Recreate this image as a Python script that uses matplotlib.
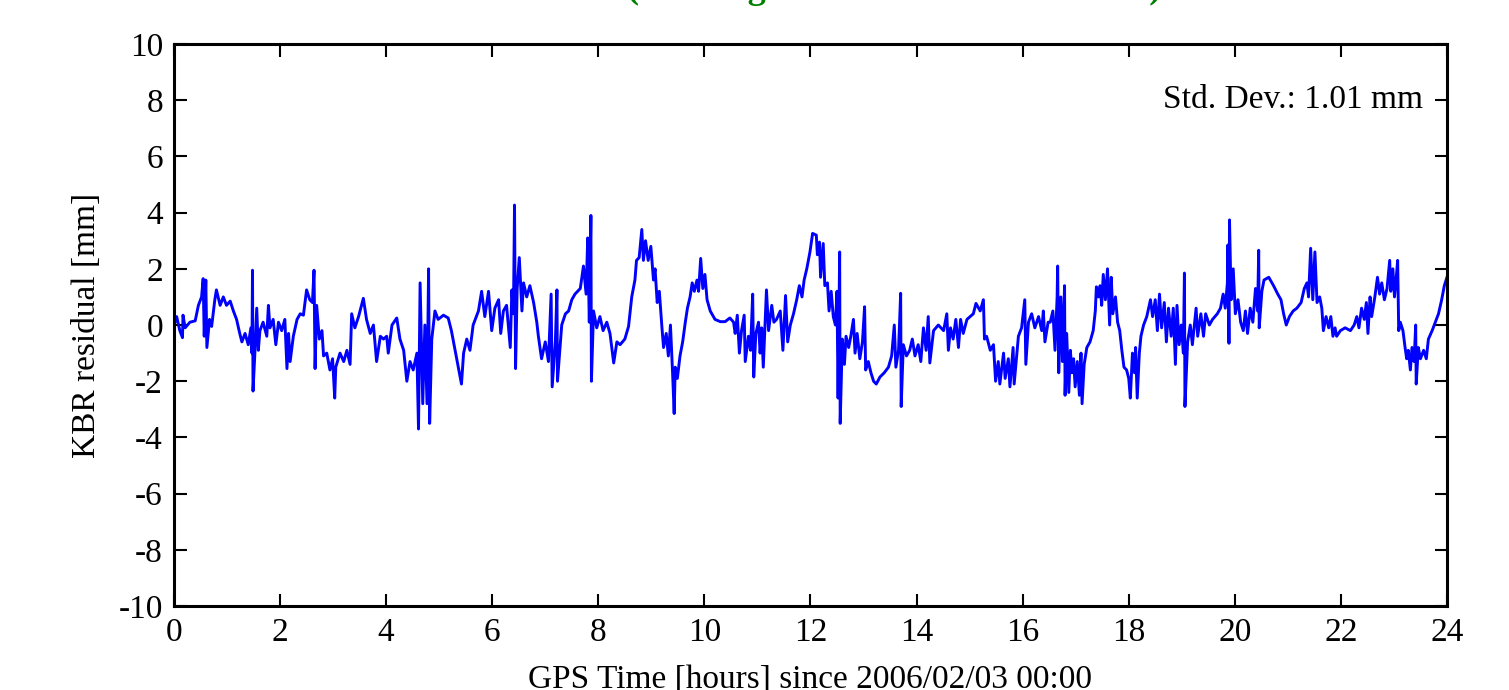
import matplotlib
matplotlib.use('Agg')
import matplotlib.pyplot as plt

plt.rcParams['font.family'] = ['Liberation Serif', 'DejaVu Serif']

# KBR residuals: time [hours] and residual [mm]
hours = [
    0.00, 0.01, 0.05, 0.11, 0.16, 0.17, 0.21, 0.30, 0.40, 0.46, 0.52, 0.55, 0.57, 0.60, 0.62,
    0.67, 0.71, 0.77, 0.80, 0.87, 0.93, 0.99, 1.06, 1.12, 1.18, 1.24, 1.28, 1.34, 1.40, 1.45,
    1.47, 1.48, 1.49, 1.53, 1.56, 1.59, 1.62, 1.68, 1.75, 1.78, 1.81, 1.87, 1.92, 1.97, 2.03,
    2.09, 2.13, 2.16, 2.19, 2.25, 2.32, 2.38, 2.44, 2.50, 2.56, 2.61, 2.64, 2.66, 2.69, 2.74,
    2.79, 2.82, 2.88, 2.94, 2.99, 3.03, 3.05, 3.13, 3.20, 3.26, 3.32, 3.35, 3.41, 3.48, 3.57,
    3.63, 3.70, 3.76, 3.82, 3.89, 3.95, 4.01, 4.04, 4.11, 4.20, 4.26, 4.33, 4.39, 4.45, 4.51,
    4.58, 4.61, 4.64, 4.69, 4.73, 4.77, 4.80, 4.82, 4.86, 4.92, 4.98, 5.08, 5.17, 5.23, 5.30,
    5.36, 5.42, 5.46, 5.52, 5.58, 5.64, 5.74, 5.80, 5.86, 5.93, 5.99, 6.05, 6.12, 6.16, 6.21,
    6.27, 6.34, 6.37, 6.40, 6.42, 6.44, 6.47, 6.51, 6.56, 6.59, 6.65, 6.71, 6.78, 6.84, 6.87,
    6.93, 7.00, 7.06, 7.11, 7.13, 7.19, 7.22, 7.23, 7.31, 7.38, 7.44, 7.50, 7.56, 7.66, 7.72,
    7.77, 7.80, 7.83, 7.86, 7.87, 7.91, 7.97, 8.03, 8.09, 8.16, 8.22, 8.29, 8.35, 8.41, 8.50,
    8.57, 8.63, 8.69, 8.72, 8.77, 8.82, 8.85, 8.89, 8.94, 8.99, 9.04, 9.07, 9.11, 9.15, 9.20,
    9.23, 9.28, 9.32, 9.36, 9.40, 9.43, 9.45, 9.49, 9.54, 9.59, 9.64, 9.68, 9.73, 9.77, 9.81,
    9.86, 9.89, 9.93, 9.97, 10.01, 10.05, 10.11, 10.20, 10.30, 10.39, 10.48, 10.55, 10.58, 10.62, 10.66,
    10.70, 10.75, 10.77, 10.83, 10.87, 10.91, 10.93, 10.97, 11.02, 11.05, 11.08, 11.11, 11.17, 11.21, 11.27,
    11.31, 11.36, 11.43, 11.48, 11.53, 11.57, 11.62, 11.68, 11.74, 11.79, 11.84, 11.88, 11.93, 11.99, 12.04,
    12.11, 12.13, 12.17, 12.19, 12.24, 12.27, 12.32, 12.35, 12.39, 12.43, 12.47, 12.50, 12.52, 12.55, 12.56,
    12.60, 12.64, 12.67, 12.72, 12.76, 12.81, 12.84, 12.88, 12.93, 12.98, 13.02, 13.04, 13.09, 13.14, 13.19,
    13.24, 13.31, 13.39, 13.47, 13.53, 13.58, 13.61, 13.66, 13.70, 13.71, 13.75, 13.81, 13.87, 13.92, 13.97,
    14.03, 14.08, 14.13, 14.18, 14.22, 14.25, 14.32, 14.41, 14.51, 14.57, 14.60, 14.64, 14.69, 14.74, 14.79,
    14.83, 14.88, 14.95, 15.01, 15.07, 15.12, 15.20, 15.26, 15.28, 15.32, 15.39, 15.45, 15.49, 15.54, 15.57,
    15.64, 15.67, 15.73, 15.76, 15.82, 15.84, 15.92, 15.98, 16.04, 16.06, 16.11, 16.17, 16.23, 16.30, 16.36,
    16.39, 16.42, 16.48, 16.52, 16.57, 16.61, 16.65, 16.66, 16.68, 16.72, 16.75, 16.79, 16.80, 16.83, 16.87,
    16.90, 16.93, 16.96, 16.99, 17.03, 17.07, 17.10, 17.12, 17.16, 17.21, 17.27, 17.33, 17.37, 17.39, 17.43,
    17.46, 17.49, 17.52, 17.56, 17.60, 17.64, 17.67, 17.70, 17.75, 17.79, 17.83, 17.87, 17.91, 17.96, 18.00,
    18.03, 18.07, 18.11, 18.13, 18.16, 18.20, 18.23, 18.28, 18.34, 18.41, 18.45, 18.50, 18.54, 18.58, 18.62,
    18.67, 18.71, 18.75, 18.80, 18.84, 18.88, 18.91, 18.95, 18.99, 19.03, 19.05, 19.06, 19.11, 19.16, 19.20,
    19.27, 19.30, 19.36, 19.41, 19.45, 19.52, 19.58, 19.67, 19.73, 19.78, 19.82, 19.86, 19.87, 19.89, 19.90,
    19.93, 19.97, 20.01, 20.06, 20.11, 20.16, 20.20, 20.24, 20.29, 20.34, 20.39, 20.43, 20.45, 20.46, 20.51,
    20.55, 20.64, 20.73, 20.81, 20.87, 20.92, 20.97, 21.03, 21.10, 21.17, 21.25, 21.31, 21.36, 21.39, 21.43,
    21.47, 21.51, 21.55, 21.60, 21.64, 21.67, 21.72, 21.77, 21.81, 21.85, 21.89, 21.92, 21.99, 22.08, 22.18,
    22.25, 22.30, 22.34, 22.39, 22.44, 22.48, 22.51, 22.55, 22.58, 22.64, 22.69, 22.73, 22.77, 22.82, 22.87,
    22.92, 22.94, 22.98, 23.01, 23.04, 23.07, 23.09, 23.12, 23.17, 23.21, 23.24, 23.27, 23.31, 23.34, 23.38,
    23.41, 23.42, 23.46, 23.50, 23.56, 23.61, 23.65, 23.72, 23.78, 23.84, 23.90, 23.95, 24.00,
]
residual_mm = [
    1.10, 0.05, 0.30, -0.20, -0.45, 0.35, -0.10, 0.10, 0.15, 0.70, 1.00, 1.65, -0.40, 1.60, -0.80,
    0.20, -0.05, 0.90, 1.25, 0.70, 1.00, 0.70, 0.85, 0.50, 0.20, -0.30, -0.60, -0.30, -0.70, -0.10,
    -1.00, 1.95, -2.35, -0.80, 0.60, -0.90, -0.20, 0.10, -0.40, 0.70, -0.10, 0.20, -0.70, 0.10, -0.20,
    0.20, -1.55, -0.30, -1.30, -0.40, 0.20, 0.40, 0.35, 1.25, 0.90, 0.80, 1.95, -1.55, 0.70, -0.50,
    -0.20, -1.10, -1.00, -1.60, -1.20, -2.60, -1.50, -1.00, -1.30, -0.90, -1.40, 0.40, -0.10, 0.30, 0.95,
    0.20, -0.30, 0.00, -1.30, -0.40, -0.50, -0.40, -1.00, 0.00, 0.25, -0.50, -0.90, -2.00, -1.30, -1.60,
    -1.00, -3.70, 1.50, -2.80, 0.00, -2.80, 2.00, -3.50, -0.50, 0.50, 0.20, 0.35, 0.25, -0.20, -0.90,
    -1.50, -2.10, -1.00, -0.50, -0.90, 0.00, 0.50, 1.20, 0.30, 1.20, -0.20, 0.60, 0.90, -0.30, 0.50,
    0.70, -0.80, 1.25, 0.40, 4.27, -1.55, 1.30, 2.40, 0.50, 1.50, 1.00, 1.40, 0.80, 0.10, -0.40,
    -1.20, -0.60, -1.30, 1.10, -2.20, -0.60, 1.25, -2.00, 0.00, 0.40, 0.50, 0.90, 1.10, 1.30, 2.10,
    1.10, 3.10, 0.10, 3.90, -2.00, 0.50, -0.10, 0.30, -0.20, 0.10, -0.30, -1.35, -0.60, -0.70, -0.50,
    -0.05, 1.00, 1.60, 2.30, 2.40, 3.40, 2.30, 3.00, 2.30, 2.80, 1.60, 2.00, 0.80, 1.20, -0.10,
    -0.80, -0.30, -1.10, 0.00, -1.70, -3.15, -1.50, -1.90, -1.10, -0.60, 0.10, 0.60, 1.00, 1.50, 1.20,
    1.60, 1.20, 2.37, 1.30, 1.80, 0.90, 0.50, 0.20, 0.12, 0.12, 0.25, 0.10, -0.30, 0.35, -1.00,
    -0.20, 0.35, -1.30, -0.40, -0.90, 1.10, -1.85, -0.30, 0.10, -1.00, -0.10, -1.50, 1.25, -0.20, 0.70,
    0.10, 0.20, 0.50, -0.90, 1.05, -0.60, 0.00, 0.40, 0.90, 1.40, 1.00, 1.60, 2.00, 2.60, 3.26,
    3.20, 2.50, 2.95, 1.70, 2.90, 1.40, 1.50, 0.50, 1.20, 0.30, 0.00, 1.20, -2.60, 2.60, -3.50,
    -0.50, -1.40, -0.40, -0.80, -0.40, 0.20, -1.00, -0.30, -1.20, -0.60, 0.65, -1.60, -1.30, -1.70, -2.00,
    -2.10, -1.85, -1.70, -1.50, -1.10, 0.00, -1.50, -0.90, 1.13, -2.90, -0.70, -1.10, -0.90, -0.50, -1.10,
    -0.70, -1.30, -0.10, -0.90, 0.30, -1.35, -0.20, 0.00, -0.20, 0.40, -0.90, -0.10, -0.50, 0.20, -0.80,
    0.20, -0.30, 0.20, 0.30, 0.40, 0.77, 0.50, 0.90, -0.50, -0.40, -0.90, -0.70, -2.00, -1.30, -2.10,
    -1.00, -1.90, -1.20, -2.20, -0.80, -2.10, -0.40, -0.10, 0.90, -1.40, 0.10, 0.40, -0.10, 0.30, -0.20,
    0.50, -0.60, 0.10, 0.10, 0.50, -0.90, 1.00, 2.10, -1.70, 1.00, -1.30, 1.40, -2.50, -0.30, -2.40,
    -0.90, -1.70, -1.20, -2.20, -1.30, -2.50, -1.00, -2.80, -1.40, -0.80, -0.60, -0.20, 0.50, 1.36, 1.00,
    1.40, 0.70, 1.80, 0.90, 2.00, 0.00, 1.70, 0.40, 1.00, 0.10, -0.20, -0.90, -1.50, -1.60, -1.90,
    -2.60, -1.00, -1.70, -0.80, -2.60, -1.00, -0.40, 0.00, 0.30, 0.90, 0.30, 0.90, -0.20, 1.10, -0.10,
    0.80, -0.60, 0.60, -0.40, 0.60, -1.40, 0.70, -0.70, 0.00, -1.00, 1.85, -2.90, -0.60, 0.00, -0.70,
    0.60, -0.40, 0.40, -0.40, 0.40, 0.00, 0.20, 0.40, 0.60, 1.10, 0.60, 1.50, 2.85, -0.65, 3.74,
    0.90, 2.00, 0.40, 0.90, 0.10, -0.20, 0.50, -0.30, 0.60, 0.10, 1.30, 0.50, 2.66, -0.10, 1.20,
    1.60, 1.70, 1.40, 1.10, 0.90, 0.40, 0.00, 0.30, 0.50, 0.60, 0.80, 1.30, 1.50, 1.00, 2.73,
    0.90, 2.60, 0.80, 1.00, 0.60, -0.20, 0.30, -0.10, 0.30, -0.40, -0.10, -0.40, -0.20, -0.10, -0.20,
    0.00, 0.30, -0.10, 0.60, 0.20, 0.80, -0.30, 1.00, 0.30, 1.00, 1.70, 1.10, 1.50, 0.90, 1.30,
    2.30, 1.20, 2.00, 1.00, 1.60, 2.30, -0.20, 0.10, -0.20, -0.80, -1.20, -0.90, -1.60, -0.80, -1.30,
    0.00, -2.10, -0.80, -1.20, -0.90, -1.20, -0.50, -0.20, 0.10, 0.40, 0.90, 1.40, 1.70,
]

x_ticks = [0, 2, 4, 6, 8, 10, 12, 14, 16, 18, 20, 22, 24]
y_ticks = [-10, -8, -6, -4, -2, 0, 2, 4, 6, 8, 10]
y_tick_labels = ['-10', '-8', '-6', '-4', '-2', '0', '2', '4', '6', '8', '10']

fig = plt.figure(figsize=(15.09, 6.9), dpi=100)
ax = fig.add_axes([0.1153, 0.1217, 0.8436, 0.8145])

ax.plot(hours, residual_mm, color='#0000ff', lw=2.1)

ax.set_xlim(0, 24)
ax.set_ylim(-10, 10)
ax.set_xticks(x_ticks)
ax.set_xticklabels([str(v) for v in x_ticks])
ax.set_yticks(y_ticks)
ax.set_yticklabels(y_tick_labels)
ax.tick_params(direction='in', length=9, width=1.5, top=True, right=True,
               labelsize=24, pad=8)
for sp in ax.spines.values():
    sp.set_linewidth(2.2)

ax.set_xlabel('GPS Time [hours] since 2006/02/03 00:00', fontsize=24, labelpad=12)
ax.set_ylabel('KBR residual [mm]', fontsize=24, labelpad=12)

ax.text(23.55, 8, 'Std. Dev.: 1.01 mm', fontsize=24, ha='right', va='center')

# titel sitzt fast komplett ausserhalb des bildes, nur unterlaengen sichtbar
fig.text(627 / 1509, 1.0 + 1.5 / 690, '(Aliasing with AOD1B & EOT11a)', fontsize=26,
         fontweight='bold', color='#008000', ha='left', va='baseline')

fig.savefig('out.png', dpi=100)
